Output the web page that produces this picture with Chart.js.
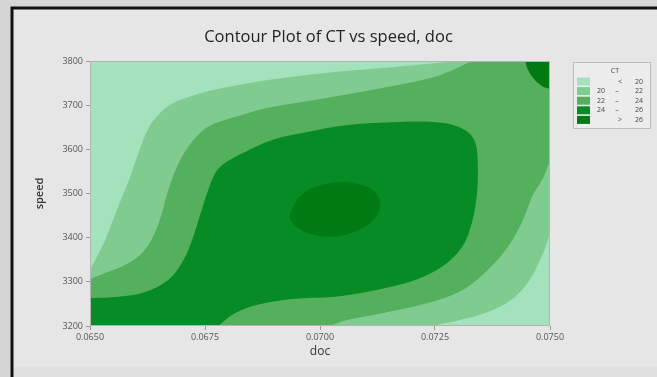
<!DOCTYPE html>
<html>
<head>
<meta charset="utf-8">
<script src="https://cdn.jsdelivr.net/npm/chart.js@4/dist/chart.umd.min.js"></script>
<style>
  html, body { margin: 0; padding: 0; background: #d9d9d9; }
  #wrap { position: relative; width: 657px; height: 377px; }
  canvas { display: block; }
</style>
</head>
<body>
<div id="wrap"><canvas id="c" width="657" height="377"></canvas></div>
<script>
// Axis ticks
const docTicks = [0.0650, 0.0675, 0.0700, 0.0725, 0.0750];
const speedTicks = [3200, 3300, 3400, 3500, 3600, 3700, 3800];

// CT bands (legend order) and fill colours
const ctLevels = ['< 20', '20 – 22', '22 – 24', '24 – 26', '> 26'];
const ctColors = ['#a3e2bc', '#80cb8f', '#55b05e', '#078b25', '#007b14'];

// Contour lines as [doc, speed] pairs
// CT = 20, upper-left branch: left edge -> top edge
const ct20Upper = [
  [0.06500, 3327], [0.06517, 3361], [0.06533, 3395], [0.06550, 3440],
  [0.06567, 3485], [0.06585, 3531], [0.06600, 3576], [0.06615, 3619],
  [0.06630, 3653], [0.06652, 3682], [0.06678, 3703], [0.06713, 3718],
  [0.06765, 3734], [0.06887, 3757], [0.07011, 3773], [0.07135, 3784],
  [0.07220, 3792], [0.07300, 3800]
];
// CT = 20, lower-right branch: right edge -> bottom edge
const ct20Lower = [
  [0.07500, 3411], [0.07491, 3381], [0.07478, 3349], [0.07459, 3309],
  [0.07435, 3277], [0.07402, 3250], [0.07352, 3227], [0.07293, 3211],
  [0.07239, 3200]
];
// CT = 22, upper-left branch: left edge -> top edge
const ct22Upper = [
  [0.06500, 3306], [0.06533, 3320], [0.06576, 3338], [0.06613, 3365],
  [0.06637, 3402], [0.06657, 3458], [0.06667, 3497], [0.06691, 3565],
  [0.06722, 3617], [0.06757, 3651], [0.06815, 3673], [0.06887, 3694],
  [0.07000, 3714], [0.07135, 3739], [0.07243, 3762], [0.07293, 3782],
  [0.07330, 3800]
];
// CT = 22, lower-right branch: right edge -> bottom edge
const ct22Lower = [
  [0.07500, 3576], [0.07485, 3535], [0.07463, 3497], [0.07439, 3435],
  [0.07407, 3377], [0.07365, 3327], [0.07309, 3281], [0.07235, 3252],
  [0.07135, 3229], [0.07061, 3214], [0.07022, 3200]
];
// CT = 24: left edge -> around the ridge -> bottom edge
const ct24 = [
  [0.06500, 3263], [0.06561, 3266], [0.06620, 3277], [0.06670, 3304],
  [0.06700, 3343], [0.06722, 3395], [0.06743, 3463], [0.06757, 3508],
  [0.06774, 3549], [0.06793, 3569], [0.06837, 3594], [0.06896, 3621],
  [0.06961, 3637], [0.07061, 3655], [0.07170, 3662], [0.07265, 3660],
  [0.07315, 3644], [0.07337, 3617], [0.07343, 3565], [0.07341, 3497],
  [0.07330, 3433], [0.07309, 3379], [0.07265, 3334], [0.07207, 3304],
  [0.07120, 3281], [0.07033, 3266], [0.06939, 3261], [0.06865, 3248],
  [0.06815, 3229], [0.06778, 3200]
];
// CT = 26, closed ring around the centre
const ct26Center = [
  [0.06935, 3447], [0.06948, 3483], [0.06978, 3510], [0.07022, 3524],
  [0.07070, 3524], [0.07109, 3512], [0.07130, 3485], [0.07124, 3451],
  [0.07093, 3422], [0.07043, 3404], [0.06989, 3406], [0.06952, 3422]
];
// CT = 26, top-right corner: top edge -> right edge
const ct26Corner = [
  [0.07446, 3800], [0.07452, 3780], [0.07465, 3759], [0.07483, 3743],
  [0.07500, 3737]
];

const X_MIN = 0.065, X_MAX = 0.075, Y_MIN = 3200, Y_MAX = 3800;
// far corners outside the axes, so fills run past the frame
const OX0 = 0.0630, OX1 = 0.0770, OY0 = 3100, OY1 = 3900;

// continue a contour past the frame along its own direction
function extend(p, q) {
  return [p[0] + (p[0] - q[0]) * 3, p[1] + (p[1] - q[1]) * 3];
}
function edged(curve) {
  const n = curve.length;
  return [extend(curve[0], curve[1]), ...curve, extend(curve[n - 1], curve[n - 2])];
}
const toXY = pts => pts.map(p => ({ x: p[0], y: p[1] }));

const shapes = [
  // < 20 : whole field
  [[OX0, OY0], [OX0, OY1], [OX1, OY1], [OX1, OY0]],
  // >= 20
  [...edged(ct20Upper), [OX1, OY1], ...edged(ct20Lower), [OX0, OY0]],
  // >= 22
  [...edged(ct22Upper), [OX1, OY1], ...edged(ct22Lower), [OX0, OY0]],
  // >= 24
  [...edged(ct24), [OX0, OY0]],
  // >= 26 centre (wrapped for a smooth join)
  [...ct26Center, ct26Center[0], ct26Center[1]],
  // >= 26 corner
  [...edged(ct26Corner), [OX1, OY1]]
];
const shapeLevel = [0, 1, 2, 3, 4, 4];

const datasets = shapes.map((pts, i) => ({
  label: ctLevels[shapeLevel[i]],
  data: toXY(pts),
  showLine: true,
  fill: 'shape',
  backgroundColor: ctColors[shapeLevel[i]],
  borderColor: ctColors[shapeLevel[i]],
  borderWidth: 0,
  pointRadius: 0,
  pointHoverRadius: 0,
  tension: 0.35,
  capBezierPoints: false,
  order: 10 - i
}));

const FONT = "'Open Sans', 'DejaVu Sans', sans-serif";

const panelPlugin = {
  id: 'panel',
  beforeDraw(chart) {
    const ctx = chart.ctx;
    ctx.save();
    ctx.fillStyle = '#d6d6d6';
    ctx.fillRect(0, 0, chart.width, chart.height);
    ctx.fillStyle = '#e6e6e6';
    ctx.fillRect(12, 8, chart.width - 12, chart.height - 8);
    ctx.fillStyle = '#e1e1e1';
    ctx.fillRect(12, 367, chart.width - 12, chart.height - 367);
    ctx.strokeStyle = '#111';
    ctx.lineWidth = 3;
    ctx.beginPath();
    ctx.moveTo(12, chart.height);
    ctx.lineTo(12, 8);
    ctx.lineTo(chart.width, 8);
    ctx.stroke();
    ctx.restore();
  },
  afterDatasetsDraw(chart) {
    const { ctx, chartArea: a } = chart;
    ctx.save();
    ctx.strokeStyle = '#b3b3b3';
    ctx.lineWidth = 1;
    ctx.strokeRect(a.left + 0.5, a.top + 0.5, a.right - a.left - 1, a.bottom - a.top - 1);
    ctx.restore();
  }
};

const legendPlugin = {
  id: 'ctLegend',
  afterDraw(chart) {
    const ctx = chart.ctx;
    const x = 573, y = 62, w = 77, h = 66;
    ctx.save();
    ctx.fillStyle = '#ececec';
    ctx.fillRect(x, y, w, h);
    ctx.strokeStyle = '#bdbdbd';
    ctx.lineWidth = 1;
    ctx.strokeRect(x + 0.5, y + 0.5, w, h);
    ctx.fillStyle = '#444';
    ctx.font = '7px ' + FONT;
    ctx.textBaseline = 'middle';
    ctx.textAlign = 'center';
    ctx.fillText('CT', 615, 71);
    ctLevels.forEach((lab, i) => {
      const ry = 81.5 + i * 9.6;
      ctx.fillStyle = ctColors[i];
      ctx.fillRect(577, ry - 4, 13, 8);
      ctx.fillStyle = '#444';
      const parts = lab.split(' ');
      if (parts.length === 3) {
        ctx.textAlign = 'right';
        ctx.fillText(parts[0], 605, ry);
        ctx.textAlign = 'center';
        ctx.fillText(parts[1], 617, ry);
        ctx.textAlign = 'right';
        ctx.fillText(parts[2], 643, ry);
      } else {
        ctx.textAlign = 'center';
        ctx.fillText(parts[0], 620, ry);
        ctx.textAlign = 'right';
        ctx.fillText(parts[1], 643, ry);
      }
    });
    ctx.restore();
  }
};

new Chart(document.getElementById('c'), {
  type: 'scatter',
  data: { datasets },
  plugins: [panelPlugin, legendPlugin],
  options: {
    responsive: false,
    animation: false,
    events: [],
    layout: { padding: 0 },
    plugins: {
      legend: { display: false },
      tooltip: { enabled: false },
      title: {
        display: true,
        text: 'Contour Plot of CT vs speed, doc',
        color: '#222',
        font: { family: FONT, size: 16.5, weight: 'normal', lineHeight: 1.2 },
        padding: { top: 27, bottom: 14.2 }
      }
    },
    scales: {
      x: {
        type: 'linear',
        min: X_MIN, max: X_MAX,
        afterBuildTicks: s => { s.ticks = docTicks.map(v => ({ value: v })); },
        afterFit: s => { s.height = 51; },
        ticks: {
          autoSkip: false, maxRotation: 0, padding: 2,
          color: '#555', font: { family: FONT, size: 9 },
          callback: v => Number(v).toFixed(4)
        },
        grid: { drawOnChartArea: false, tickLength: 4, color: '#9a9a9a' },
        border: { display: false },
        title: {
          display: true, text: 'doc', color: '#333',
          font: { family: FONT, size: 12 },
          padding: { top: 0, bottom: 18 }
        }
      },
      y: {
        type: 'linear',
        min: Y_MIN, max: Y_MAX,
        afterBuildTicks: s => { s.ticks = speedTicks.map(v => ({ value: v })); },
        afterFit: s => { s.width = 90; },
        ticks: {
          autoSkip: false, padding: 3,
          color: '#555', font: { family: FONT, size: 9 },
          callback: v => String(v)
        },
        grid: { drawOnChartArea: false, tickLength: 4, color: '#9a9a9a' },
        border: { display: false },
        title: {
          display: true, text: 'speed', color: '#333',
          font: { family: FONT, size: 11, weight: '600' },
          padding: { top: 33, bottom: 0 }
        }
      },
      // right-hand margin that holds the CT key
      keyMargin: {
        type: 'linear',
        position: 'right',
        min: Y_MIN, max: Y_MAX,
        afterFit: s => { s.width = 107; },
        ticks: { display: false },
        grid: { display: false },
        border: { display: false },
        title: { display: false }
      }
    }
  }
});
</script>
</body>
</html>
